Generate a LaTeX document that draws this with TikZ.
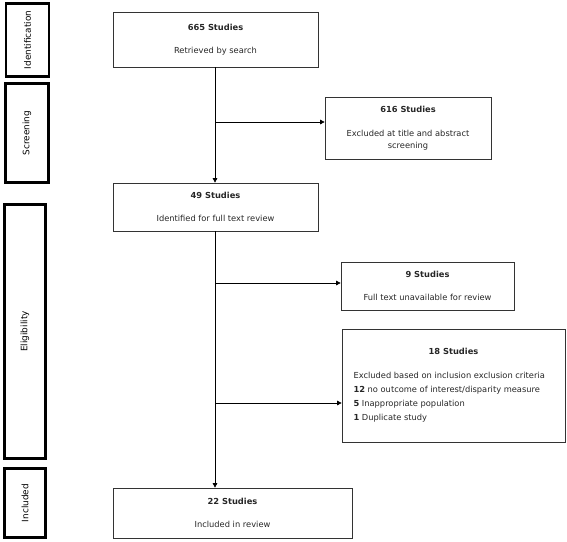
\documentclass[tikz,border=0pt]{standalone}
\usepackage{fontspec}
\setmainfont{DejaVu Sans}
\usetikzlibrary{arrows.meta}
\tikzset{
	stage/.style={draw=black, line width=2.4pt, rotate=90, inner sep=0pt, font=\fontsize{8.9}{10}\selectfont},
	studybox/.style={draw=black!80, line width=0.7pt, inner sep=0pt, align=center, text=black!85, font=\fontsize{8.3}{13}\selectfont},
	flow/.style={line width=0.6pt, -{Triangle[length=4.5pt,width=4.5pt]}}
}

\begin{document}
\begin{tikzpicture}[x=1pt, y=-1pt]
			%%%%% START %%%%%
			\useasboundingbox (0, 0) rectangle (567, 541);
			
			% stage boxes on the left
			\node[stage, minimum width=73, minimum height=43] (idf) at (27.5, 40) {Identification};
			\node[stage, minimum width=99, minimum height=43] (scr) at (27, 133) {Screening};
			\node[stage, minimum width=254, minimum height=41] (elg) at (25, 331.5) {Eligibility};
			\node[stage, minimum width=69, minimum height=41] (inc) at (25, 503) {Included};
			
			% study boxes
			\node[studybox, minimum width=205, minimum height=55] (found) at (215.5, 39.5)
				{\textbf{665 Studies}\\[10pt]Retrieved by search};
			\node[studybox, minimum width=166, minimum height=62] (titleout) at (408, 128)
				{\textbf{616 Studies}\\[11pt]Excluded at title and abstract\\[-1pt]screening};
			\node[studybox, minimum width=205, minimum height=48] (fulltext) at (215.5, 207)
				{\textbf{49 Studies}\\[10pt]Identified for full text review};
			\node[studybox, minimum width=173, minimum height=48] (unavail) at (427.5, 286)
				{\textbf{9 Studies}\\[10pt]Full text unavailable for review};
			\node[studybox, minimum width=223, minimum height=113, align=left] (critout) at (453.5, 385.5)
				{\makebox[200pt]{\textbf{18 Studies}}\\[11pt]
				 Excluded based on inclusion exclusion criteria\\[1pt]
				 \textbf{12} no outcome of interest/disparity measure\\[1pt]
				 \textbf{5} Inappropriate population\\[1pt]
				 \textbf{1} Duplicate study};
			\node[studybox, minimum width=239, minimum height=50] (final) at (232.5, 513)
				{\textbf{22 Studies}\\[10pt]Included in review};
			
			% connectors
			\coordinate (split1) at (215, 122);
			\coordinate (split2) at (215, 283);
			\coordinate (split3) at (215, 403);
			
			\draw[flow] (found.south -| split1) -- (fulltext.north -| split1);
			\draw[flow] (split1) -- (split1 -| titleout.west);
			\draw[flow] (fulltext.south -| split2) -- (final.north -| split2);
			\draw[flow] (split2) -- (split2 -| unavail.west);
			\draw[flow] (split3) -- (split3 -| critout.west);
			%%%%% END %%%%%
\end{tikzpicture}
\end{document}
